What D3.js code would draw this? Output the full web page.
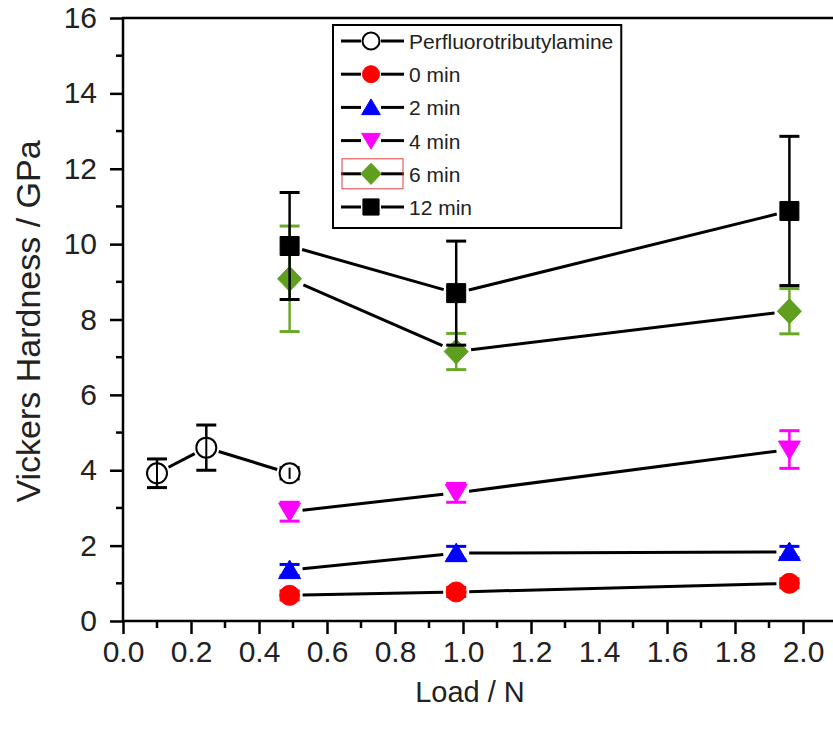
<!DOCTYPE html>
<html>
<head>
<meta charset="utf-8">
<script src="https://cdn.jsdelivr.net/npm/d3@7"></script>
<style>
  html, body { margin: 0; padding: 0; background: #fff; }
  svg { display: block; }
  text { font-family: Arial, "Liberation Sans", sans-serif; fill: #222; }
</style>
</head>
<body>
<svg id="chart" width="833" height="731"></svg>
<script>
// ---- data ----
const perfLoads = [0.1, 0.245, 0.49];
const perfValues = [3.92, 4.6, 3.92];
const perfErrors = [0.38, 0.6, 0.15];

const loads = [0.49, 0.98, 1.96];
const min0Values = [0.68, 0.77, 1.0];
const min0Errors = [0.12, 0.12, 0.12];
const min2Values = [1.35, 1.8, 1.83];
const min2Errors = [0.15, 0.18, 0.15];
const min4Values = [2.9, 3.4, 4.55];
const min4Errors = [0.25, 0.25, 0.5];
const min6Values = [9.08, 7.15, 8.22];
const min6Errors = [1.4, 0.48, 0.6];
const min12Values = [9.95, 8.7, 10.88];
const min12Errors = [1.42, 1.38, 1.98];

const seriesNames = ["Perfluorotributylamine", "0 min", "2 min", "4 min", "6 min", "12 min"];
const xTicks = [0, 0.2, 0.4, 0.6, 0.8, 1.0, 1.2, 1.4, 1.6, 1.8, 2.0];
const yTicks = [0, 2, 4, 6, 8, 10, 12, 14, 16];

(function () {
const series = [
  { name: seriesNames[0], x: perfLoads, y: perfValues, e: perfErrors, shape: "circle", fill: "#ffffff", stroke: "#000000", err: "#000000" },
  { name: seriesNames[1], x: loads, y: min0Values, e: min0Errors, shape: "circle", fill: "#ff0000", stroke: "#ff0000", err: "#ff0000" },
  { name: seriesNames[2], x: loads, y: min2Values, e: min2Errors, shape: "triangle", fill: "#0000ff", stroke: "#0000ff", err: "#0000ff" },
  { name: seriesNames[3], x: loads, y: min4Values, e: min4Errors, shape: "triangleDown", fill: "#ff00ff", stroke: "#ff00ff", err: "#ff00ff" },
  { name: seriesNames[4], x: loads, y: min6Values, e: min6Errors, shape: "diamond", fill: "#5f9e1f", stroke: "#5f9e1f", err: "#6aa82a" },
  { name: seriesNames[5], x: loads, y: min12Values, e: min12Errors, shape: "square", fill: "#000000", stroke: "#000000", err: "#000000" }
];

// ---- layout ----
const svg = d3.select("#chart");
const pL = 123, pB = 621, pT = 18, pR = 837;
const x = d3.scaleLinear().domain([0, 2.1]).range([pL, pR]);
const y = d3.scaleLinear().domain([0, 16]).range([pB, pT]);

// custom symbol geometries (size argument used as a scale factor)
const sym = {
  circle: { draw(c, s) { const r = 10 * s; c.moveTo(r, 0); c.arc(0, 0, r, 0, 2 * Math.PI); } },
  square: { draw(c, s) { const h = 9.5 * s; c.rect(-h, -h, 2 * h, 2 * h); } },
  triangle: { draw(c, s) { const w = 11 * s, h = 10 * s; c.moveTo(0, -h); c.lineTo(w, h * 0.85); c.lineTo(-w, h * 0.85); c.closePath(); } },
  triangleDown: { draw(c, s) { const w = 11 * s, h = 10 * s; c.moveTo(0, h); c.lineTo(w, -h * 0.85); c.lineTo(-w, -h * 0.85); c.closePath(); } },
  diamond: { draw(c, s) { const w = 12 * s, h = 12.5 * s; c.moveTo(0, -h); c.lineTo(w, 0); c.lineTo(0, h); c.lineTo(-w, 0); c.closePath(); } }
};
const gapR = { circle: 13, triangle: 13, triangleDown: 13, diamond: 15, square: 13 };

function drawMarker(g, shape, cx, cy, fill, stroke, scale) {
  g.append("path")
    .attr("d", d3.symbol().type(sym[shape]).size(scale || 1)())
    .attr("transform", `translate(${cx},${cy})`)
    .attr("fill", fill)
    .attr("stroke", stroke)
    .attr("stroke-width", fill === "#ffffff" ? 2 : 1);
}

// ---- axes ----
const yAxis = d3.axisLeft(y).tickValues(yTicks).tickSize(13).tickPadding(13).tickFormat(d3.format("d"));
const gy = svg.append("g").attr("transform", `translate(${pL},0)`).call(yAxis);
gy.select(".domain").remove();
gy.selectAll(".tick line").attr("stroke", "#000").attr("stroke-width", 2.5);
gy.selectAll(".tick text").attr("font-size", 30).attr("fill", "#222").attr("font-family", "Arial, 'Liberation Sans', sans-serif");

const yMinor = d3.range(1, 16, 2);
svg.append("g").selectAll("line").data(yMinor).join("line")
  .attr("x1", pL - 7).attr("x2", pL).attr("y1", d => y(d)).attr("y2", d => y(d))
  .attr("stroke", "#000").attr("stroke-width", 2.5);

const xAxis = d3.axisBottom(x).tickValues(xTicks).tickSize(13).tickPadding(7).tickFormat(d3.format(".1f"));
const gx = svg.append("g").attr("transform", `translate(0,${pB})`).call(xAxis);
gx.select(".domain").remove();
gx.selectAll(".tick line").attr("stroke", "#000").attr("stroke-width", 2.5);
gx.selectAll(".tick text").attr("font-size", 30).attr("fill", "#222").attr("font-family", "Arial, 'Liberation Sans', sans-serif");

const xMinor = d3.range(0.1, 2.1, 0.2);
svg.append("g").selectAll("line").data(xMinor).join("line")
  .attr("x1", d => x(d)).attr("x2", d => x(d)).attr("y1", pB).attr("y2", pB + 7)
  .attr("stroke", "#000").attr("stroke-width", 2.5);

// frame
svg.append("line").attr("x1", pL).attr("x2", pL).attr("y1", pT).attr("y2", pB).attr("stroke", "#000").attr("stroke-width", 2.5);
svg.append("line").attr("x1", pL - 1).attr("x2", 833).attr("y1", pB).attr("y2", pB).attr("stroke", "#000").attr("stroke-width", 2.5);
svg.append("line").attr("x1", pL - 1).attr("x2", 833).attr("y1", pT).attr("y2", pT).attr("stroke", "#000").attr("stroke-width", 2.5);

// axis titles
svg.append("text").attr("x", x(1.0) + 7).attr("y", 702).attr("text-anchor", "middle")
  .attr("font-size", 29).text("Load / N");
svg.append("text").attr("transform", `translate(40,${(pT + pB) / 2 + 2}) rotate(-90)`).attr("text-anchor", "middle")
  .attr("font-size", 34).text("Vickers Hardness / GPa");

// ---- series ----
const plot = svg.append("g");
series.forEach(s => {
  const g = plot.append("g");
  const pts = s.x.map((xv, i) => ({ px: x(xv), py: y(s.y[i]), v: s.y[i], e: s.e[i] }));
  for (let i = 0; i < pts.length - 1; i++) {
    const a = pts[i], b = pts[i + 1];
    const dx = b.px - a.px, dy = b.py - a.py, L = Math.hypot(dx, dy);
    const r = gapR[s.shape];
    g.append("line")
      .attr("x1", a.px + dx / L * r).attr("y1", a.py + dy / L * r)
      .attr("x2", b.px - dx / L * r).attr("y2", b.py - dy / L * r)
      .attr("stroke", "#000").attr("stroke-width", 3);
  }
  pts.forEach(p => {
    const y1 = y(p.v + p.e), y2 = y(p.v - p.e);
    g.append("line").attr("x1", p.px).attr("x2", p.px).attr("y1", y1).attr("y2", y2)
      .attr("stroke", s.err).attr("stroke-width", 2.5);
    [y1, y2].forEach(yy => {
      g.append("line").attr("x1", p.px - 10).attr("x2", p.px + 10).attr("y1", yy).attr("y2", yy)
        .attr("stroke", s.err).attr("stroke-width", 3);
    });
  });
  pts.forEach(p => drawMarker(g, s.shape, p.px, p.py, s.fill, s.stroke));
  if (s.fill === "#ffffff") {
    pts.forEach(p => {
      const y1 = y(p.v + p.e), y2 = y(p.v - p.e);
      g.append("line").attr("x1", p.px).attr("x2", p.px)
        .attr("y1", Math.max(y1, p.py - 10)).attr("y2", Math.min(y2, p.py + 10))
        .attr("stroke", "#000").attr("stroke-width", 2);
    });
  }
});

// ---- legend ----
const lg = svg.append("g");
const lgX = 333, lgY = 25, lgH = 203;
const lgRect = lg.append("rect").attr("x", lgX).attr("y", lgY).attr("height", lgH)
  .attr("fill", "#fff").attr("stroke", "#000").attr("stroke-width", 2);
let maxW = 0;
series.forEach((s, i) => {
  const cy = lgY + 16 + i * 33.2;
  lg.append("line").attr("x1", lgX + 8).attr("x2", lgX + 28).attr("y1", cy).attr("y2", cy).attr("stroke", "#000").attr("stroke-width", 3);
  lg.append("line").attr("x1", lgX + 48).attr("x2", lgX + 71).attr("y1", cy).attr("y2", cy).attr("stroke", "#000").attr("stroke-width", 3);
  drawMarker(lg, s.shape, lgX + 38, cy, s.fill, s.stroke, 0.85);
  const t = lg.append("text").attr("x", lgX + 76).attr("y", cy + 8).attr("font-size", 21).text(s.name);
  maxW = Math.max(maxW, t.node().getComputedTextLength());
});
lgRect.attr("width", 76 + maxW + 8);
lg.append("rect").attr("x", lgX + 9).attr("y", lgY + 16 + 4 * 33.2 - 15).attr("width", 61).attr("height", 30)
  .attr("fill", "none").attr("stroke", "#e04040").attr("stroke-width", 1);
})();
</script>
</body>
</html>
